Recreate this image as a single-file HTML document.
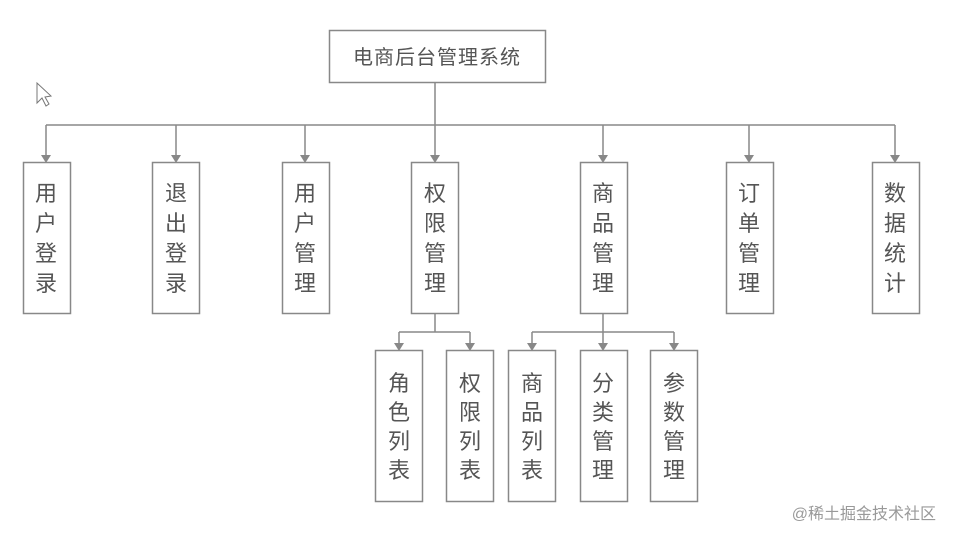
<!DOCTYPE html>
<html><head><meta charset="utf-8"><style>
html,body{margin:0;padding:0;background:#fff;}
svg{display:block;}
text{font-family:"Liberation Sans","Noto Sans CJK SC",sans-serif;fill:#555;}
</style></head><body>
<svg width="954" height="540" viewBox="0 0 954 540" xmlns="http://www.w3.org/2000/svg">
<defs>
<marker id="a" markerWidth="10" markerHeight="8" refX="5" refY="7" orient="auto" markerUnits="userSpaceOnUse">
</marker>
</defs>
<g stroke="#888" stroke-width="1.5" fill="none">
<rect x="329.5" y="30.5" width="216" height="52" fill="#fff"/>
<line x1="435" y1="82" x2="435" y2="125"/>
<line x1="46" y1="125" x2="895" y2="125"/>
<line x1="46" y1="125" x2="46" y2="157"/>
<line x1="176" y1="125" x2="176" y2="157"/>
<line x1="305" y1="125" x2="305" y2="157"/>
<line x1="435" y1="125" x2="435" y2="157"/>
<line x1="603" y1="125" x2="603" y2="157"/>
<line x1="749" y1="125" x2="749" y2="157"/>
<line x1="895" y1="125" x2="895" y2="157"/>
<rect x="23.5" y="162.5" width="47" height="151"/>
<rect x="152.5" y="162.5" width="47" height="151"/>
<rect x="282.5" y="162.5" width="47" height="151"/>
<rect x="411.5" y="162.5" width="47" height="151"/>
<rect x="580.5" y="162.5" width="47" height="151"/>
<rect x="726.5" y="162.5" width="47" height="151"/>
<rect x="872.5" y="162.5" width="47" height="151"/>
<line x1="435" y1="313" x2="435" y2="332"/>
<line x1="399" y1="332" x2="470" y2="332"/>
<line x1="399" y1="332" x2="399" y2="345"/>
<line x1="470" y1="332" x2="470" y2="345"/>
<line x1="603" y1="313" x2="603" y2="345"/>
<line x1="532" y1="332" x2="674" y2="332"/>
<line x1="532" y1="332" x2="532" y2="345"/>
<line x1="674" y1="332" x2="674" y2="345"/>
<rect x="375.5" y="350.5" width="47" height="151"/>
<rect x="446.5" y="350.5" width="47" height="151"/>
<rect x="508.5" y="350.5" width="47" height="151"/>
<rect x="580.5" y="350.5" width="47" height="151"/>
<rect x="650.5" y="350.5" width="47" height="151"/>
</g>
<g fill="#888">
<polygon points="41,155 51,155 46,163"/>
<polygon points="171,155 181,155 176,163"/>
<polygon points="300,155 310,155 305,163"/>
<polygon points="430,155 440,155 435,163"/>
<polygon points="598,155 608,155 603,163"/>
<polygon points="744,155 754,155 749,163"/>
<polygon points="890,155 900,155 895,163"/>
<polygon points="394,343 404,343 399,351"/>
<polygon points="465,343 475,343 470,351"/>
<polygon points="527,343 537,343 532,351"/>
<polygon points="598,343 608,343 603,351"/>
<polygon points="669,343 679,343 674,351"/>
</g>
<text x="437" y="64" font-size="20" text-anchor="middle" letter-spacing="1">电商后台管理系统</text>
<g font-size="22" text-anchor="middle">
<text x="46" y="201">用</text><text x="46" y="231">户</text><text x="46" y="261">登</text><text x="46" y="291">录</text>
<text x="176" y="201">退</text><text x="176" y="231">出</text><text x="176" y="261">登</text><text x="176" y="291">录</text>
<text x="305" y="201">用</text><text x="305" y="231">户</text><text x="305" y="261">管</text><text x="305" y="291">理</text>
<text x="435" y="201">权</text><text x="435" y="231">限</text><text x="435" y="261">管</text><text x="435" y="291">理</text>
<text x="603" y="201">商</text><text x="603" y="231">品</text><text x="603" y="261">管</text><text x="603" y="291">理</text>
<text x="749" y="201">订</text><text x="749" y="231">单</text><text x="749" y="261">管</text><text x="749" y="291">理</text>
<text x="895" y="201">数</text><text x="895" y="231">据</text><text x="895" y="261">统</text><text x="895" y="291">计</text>
<text x="399" y="391">角</text><text x="399" y="420">色</text><text x="399" y="449">列</text><text x="399" y="478">表</text>
<text x="470" y="391">权</text><text x="470" y="420">限</text><text x="470" y="449">列</text><text x="470" y="478">表</text>
<text x="532" y="391">商</text><text x="532" y="420">品</text><text x="532" y="449">列</text><text x="532" y="478">表</text>
<text x="603" y="391">分</text><text x="603" y="420">类</text><text x="603" y="449">管</text><text x="603" y="478">理</text>
<text x="674" y="391">参</text><text x="674" y="420">数</text><text x="674" y="449">管</text><text x="674" y="478">理</text>
</g>
<polygon points="37,83 37,103 42,98 46,106 49,104 45,97 51,96" fill="#fff" stroke="#777" stroke-width="1"/>
<text x="936" y="519" font-size="16" text-anchor="end" style="fill:#999">@稀土掘金技术社区</text>
</svg>
</body></html>
